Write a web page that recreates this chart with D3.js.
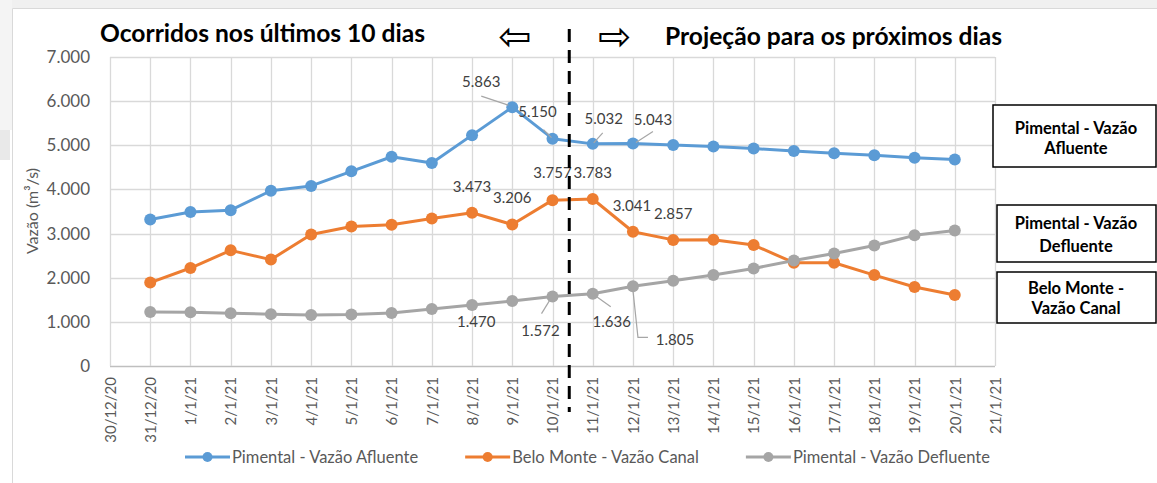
<!DOCTYPE html>
<html>
<head>
<meta charset="utf-8">
<script src="https://cdn.jsdelivr.net/npm/d3@7"></script>
<style>
  body { margin: 0; background: #fff; }
  svg { display: block; font-family: Lato, "Open Sans", sans-serif; }
</style>
</head>
<body>
<div id="chart"></div>
<script>
// dates of the points (d/m/yy)
var dates = ['31/12/20', '1/1/21', '2/1/21', '3/1/21', '4/1/21', '5/1/21', '6/1/21',
  '7/1/21', '8/1/21', '9/1/21', '10/1/21', '11/1/21', '12/1/21', '13/1/21', '14/1/21',
  '15/1/21', '16/1/21', '17/1/21', '18/1/21', '19/1/21', '20/1/21'];

var afluente  = [3320, 3490, 3530, 3970, 4080, 4410, 4740, 4600, 5230, 5863, 5150,
  5032, 5043, 5007, 4975, 4925, 4870, 4820, 4775, 4720, 4680];
var canal     = [1890, 2220, 2620, 2410, 2980, 3160, 3200, 3340, 3473, 3206, 3757,
  3783, 3041, 2857, 2860, 2740, 2340, 2340, 2060, 1790, 1610];
var defluente = [1225, 1220, 1195, 1175, 1155, 1165, 1200, 1290, 1380, 1470, 1572,
  1636, 1805, 1930, 2060, 2210, 2390, 2550, 2730, 2960, 3070];

var yTicks = [0, 1000, 2000, 3000, 4000, 5000, 6000, 7000];
var xDomain = ['30/12/20', '21/1/21'];

var seriesNames = ['Pimental - Vazão Afluente', 'Belo Monte - Vazão Canal', 'Pimental - Vazão Defluente'];
var seriesColors = ['#5b9bd5', '#ed7d31', '#a5a5a5'];

var boxTexts = [
  ['Pimental - Vazão', 'Afluente'],
  ['Pimental - Vazão', 'Defluente'],
  ['Belo Monte -', 'Vazão Canal']
];

var parseDate = d3.timeParse('%d/%m/%y');
var ptBR = d3.formatLocale({ decimal: ',', thousands: '.', grouping: [3], currency: ['R$', ''] });
var fmt = ptBR.format(',d');

var series = [afluente, canal, defluente].map(function(vals, s) {
  return {
    name: seriesNames[s],
    color: seriesColors[s],
    points: vals.map(function(v, i) { return { date: parseDate(dates[i]), value: v, i: i }; })
  };
});

// data labels: which point, offset of the text, optional leader line (relative to point)
var labels = [
  { s: 0, i: 9,  dx: -31, dy: -25, leader: [[-31, -11], [-4, -2]] },
  { s: 0, i: 10, dx: -15, dy: -27, leader: [[-9, -9], [-1, -1]] },
  { s: 0, i: 11, dx: 11,  dy: -25, leader: [[10, -11], [1, -1]] },
  { s: 0, i: 12, dx: 20,  dy: -24, leader: [[20, -12], [3, -1]] },
  { s: 1, i: 8,  dx: 0,   dy: -26 },
  { s: 1, i: 9,  dx: 0,   dy: -27 },
  { s: 1, i: 10, dx: 0,   dy: -27 },
  { s: 1, i: 11, dx: 0,   dy: -26 },
  { s: 1, i: 12, dx: -1,  dy: -26 },
  { s: 1, i: 13, dx: 0,   dy: -26 },
  { s: 2, i: 9,  dx: -36, dy: 21 },
  { s: 2, i: 10, dx: -12, dy: 34, leader: [[-11, 17], [-3, 4]] },
  { s: 2, i: 11, dx: 19,  dy: 28, leader: [[18, 13], [4, 3]] },
  { s: 2, i: 12, dx: 42,  dy: 53, leader: [[0, 4], [5, 51], [15, 51]] }
];

var W = 1157, H = 483;
var svg = d3.select('#chart').append('svg')
  .attr('width', W)
  .attr('height', H);

// spreadsheet background around the chart frame
svg.append('rect').attr('x', 0).attr('y', 0).attr('width', W).attr('height', 8).attr('fill', '#f0f0f0');
svg.append('rect').attr('x', 0).attr('y', 0).attr('width', 12).attr('height', 130).attr('fill', '#f4f4f4');
svg.append('rect').attr('x', 0).attr('y', 130).attr('width', 10).attr('height', 30).attr('fill', '#e9e9e9');
svg.append('path')
  .attr('d', 'M12.5,' + H + 'V8.5H' + W)
  .attr('fill', 'none')
  .attr('stroke', '#d9d9d9');

var x = d3.scaleTime()
  .domain(xDomain.map(parseDate))
  .range([110, 995]);

var y = d3.scaleLinear()
  .domain([0, 7000])
  .range([366, 57]);

var days = d3.timeDay.range(x.domain()[0], d3.timeDay.offset(x.domain()[1], 1));

// grid
svg.append('g')
  .selectAll('line.h')
  .data(yTicks)
  .enter().append('line')
    .attr('x1', x.range()[0]).attr('x2', x.range()[1])
    .attr('y1', function(d) { return Math.round(y(d)) + 0.5; })
    .attr('y2', function(d) { return Math.round(y(d)) + 0.5; })
    .attr('stroke', function(d) { return d === 0 ? '#bfbfbf' : '#d9d9d9'; })
    .attr('stroke-width', 1.3);

svg.append('g')
  .selectAll('line.v')
  .data(days)
  .enter().append('line')
    .attr('x1', function(d) { return Math.round(x(d)) + 0.5; })
    .attr('x2', function(d) { return Math.round(x(d)) + 0.5; })
    .attr('y1', y(7000)).attr('y2', y(0))
    .attr('stroke', '#d9d9d9')
    .attr('stroke-width', 1.3);

// y axis
var yAxis = svg.append('g')
  .attr('transform', 'translate(' + x.range()[0] + ',0)')
  .call(d3.axisLeft(y).tickValues(yTicks).tickFormat(fmt).tickSize(0).tickPadding(20));
yAxis.select('.domain').remove();
yAxis.selectAll('text')
  .attr('font-size', 17)
  .attr('font-family', 'Lato, sans-serif')
  .attr('fill', '#595959');

// x axis
var xAxis = svg.append('g')
  .attr('transform', 'translate(0,' + y(0) + ')')
  .call(d3.axisBottom(x).tickValues(days).tickFormat(d3.timeFormat('%-d/%-m/%y')).tickSize(0));
xAxis.select('.domain').remove();
xAxis.selectAll('text')
  .attr('font-size', 15)
  .attr('font-family', 'Lato, sans-serif')
  .attr('fill', '#595959')
  .attr('text-anchor', 'end')
  .attr('transform', 'rotate(-90)')
  .attr('x', -11)
  .attr('y', 0)
  .attr('dy', '0.35em');

svg.append('text')
  .attr('transform', 'translate(38,211) rotate(-90)')
  .attr('text-anchor', 'middle')
  .attr('font-size', 16)
  .attr('fill', '#595959')
  .text('Vazão (m³/s)');

// lines and markers
var line = d3.line()
  .x(function(d) { return x(d.date); })
  .y(function(d) { return y(d.value); });

var sg = svg.selectAll('g.series')
  .data(series)
  .enter().append('g')
    .attr('class', 'series');

sg.append('path')
  .attr('d', function(d) { return line(d.points); })
  .attr('fill', 'none')
  .attr('stroke', function(d) { return d.color; })
  .attr('stroke-width', 3)
  .attr('stroke-linejoin', 'round');

sg.selectAll('circle')
  .data(function(d) { return d.points.map(function(p) { return { p: p, color: d.color }; }); })
  .enter().append('circle')
    .attr('cx', function(d) { return x(d.p.date); })
    .attr('cy', function(d) { return y(d.p.value); })
    .attr('r', 6)
    .attr('fill', function(d) { return d.color; });

// data labels
var lg = svg.append('g');
labels.forEach(function(l) {
  var p = series[l.s].points[l.i];
  var px = x(p.date), py = y(p.value);
  if (l.leader) {
    lg.append('path')
      .attr('d', d3.line()(l.leader.map(function(c) { return [px + c[0], py + c[1]]; })))
      .attr('fill', 'none')
      .attr('stroke', '#a6a6a6')
      .attr('stroke-width', 1.2);
  }
  lg.append('text')
    .attr('x', px + l.dx)
    .attr('y', py + l.dy)
    .attr('dy', '0.35em')
    .attr('text-anchor', 'middle')
    .attr('font-size', 15)
    .attr('fill', '#404040')
    .text(fmt(p.value));
});

// split between observed and projected
var split = d3.timeHour.offset(parseDate('10/1/21'), 10);
svg.append('line')
  .attr('x1', x(split)).attr('x2', x(split))
  .attr('y1', 29).attr('y2', 412)
  .attr('stroke', '#000')
  .attr('stroke-width', 3)
  .attr('stroke-dasharray', '13,8');

// titles
svg.append('text')
  .attr('x', 100).attr('y', 42)
  .attr('font-size', 24.6)
  .attr('font-weight', 'bold')
  .attr('fill', '#000')
  .text('Ocorridos nos últimos 10 dias');

svg.append('text')
  .attr('x', 665).attr('y', 45)
  .attr('font-size', 24.6)
  .attr('font-weight', 'bold')
  .attr('fill', '#000')
  .text('Projeção para os próximos dias');

svg.append('text')
  .attr('x', 515).attr('y', 36)
  .attr('dy', '0.35em')
  .attr('text-anchor', 'middle')
  .attr('font-family', 'DejaVu Sans')
  .attr('font-size', 40)
  .text('\u21E6');

svg.append('text')
  .attr('x', 615).attr('y', 36)
  .attr('dy', '0.35em')
  .attr('text-anchor', 'middle')
  .attr('font-family', 'DejaVu Sans')
  .attr('font-size', 40)
  .text('\u21E8');

// boxes on the right
var boxes = [
  { x: 993, y: 105, w: 163, h: 62, lines: [128, 148] },
  { x: 997, y: 205, w: 159, h: 57, lines: [223, 246] },
  { x: 997, y: 272, w: 159, h: 51, lines: [288, 308] }
];
boxes.forEach(function(b, k) {
  svg.append('rect')
    .attr('x', b.x).attr('y', b.y)
    .attr('width', b.w).attr('height', b.h)
    .attr('fill', '#fff')
    .attr('stroke', '#000')
    .attr('stroke-width', 1.5);
  boxTexts[k].forEach(function(t, j) {
    svg.append('text')
      .attr('x', 1076).attr('y', b.lines[j])
      .attr('dy', '0.35em')
      .attr('text-anchor', 'middle')
      .attr('font-size', 16.5)
      .attr('font-weight', 'bold')
      .text(t);
  });
});

// legend
var legX = 185;
series.forEach(function(s) {
  var g = svg.append('g').attr('transform', 'translate(' + legX + ',457)');
  g.append('line')
    .attr('x1', 0).attr('x2', 45)
    .attr('stroke', s.color)
    .attr('stroke-width', 3);
  g.append('circle')
    .attr('cx', 22.5).attr('r', 5)
    .attr('fill', s.color);
  var t = g.append('text')
    .attr('x', 47)
    .attr('dy', '0.35em')
    .attr('font-size', 16.5)
    .attr('fill', '#595959')
    .text(s.name);
  legX += 47 + t.node().getComputedTextLength() + 47;
});
</script>
</body>
</html>
